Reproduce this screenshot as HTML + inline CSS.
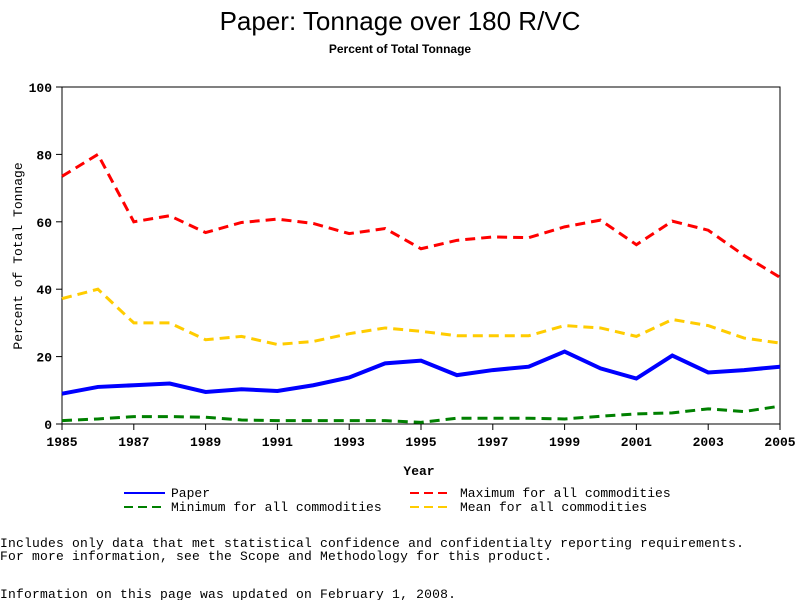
<!DOCTYPE html>
<html><head><meta charset="utf-8"><style>
body{margin:0;width:800px;height:600px;background:#fff;overflow:hidden;font-family:"Liberation Sans",sans-serif}
svg{display:block}
.mono{font-family:"Liberation Mono",monospace}
</style></head><body>
<svg id="chart" width="800" height="600">
<text x="400" y="30" text-anchor="middle" font-size="26">Paper: Tonnage over 180 R/VC</text>
<text x="400" y="53" text-anchor="middle" font-size="12" font-weight="bold">Percent of Total Tonnage</text>
<rect x="62" y="87" width="718" height="337" fill="none" stroke="#000"/>
<g id="axes"></g>
<g id="series"></g>
<text x="419" y="475" text-anchor="middle" font-size="13" font-weight="bold" class="mono">Year</text>
<text transform="translate(22,256) rotate(-90)" text-anchor="middle" font-size="13" class="mono">Percent of Total Tonnage</text>
<g class="mono" font-size="13">
<g><line x1="124" y1="493" x2="165" y2="493" stroke="#0000ff" stroke-width="2"/><text x="171" y="497">Paper</text></g>
<g><line x1="410" y1="493" x2="452" y2="493" stroke="#ff0000" stroke-width="2" stroke-dasharray="9,5"/><text x="460" y="497">Maximum for all commodities</text></g>
<g><line x1="124" y1="507" x2="165" y2="507" stroke="#008000" stroke-width="2" stroke-dasharray="9,5"/><text x="171" y="511">Minimum for all commodities</text></g>
<g><line x1="410" y1="507" x2="452" y2="507" stroke="#ffcc00" stroke-width="2" stroke-dasharray="9,5"/><text x="460" y="511">Mean for all commodities</text></g>
</g>
<g class="mono" font-size="13" letter-spacing="0.2">
<text x="0" y="547">Includes only data that met statistical confidence and confidentialty reporting requirements.</text>
<text x="0" y="560">For more information, see the Scope and Methodology for this product.</text>
<text x="0" y="598">Information on this page was updated on February 1, 2008.</text>
</g>
</svg>
<script>
const years=[1985,1986,1987,1988,1989,1990,1991,1992,1993,1994,1995,1996,1997,1998,1999,2000,2001,2002,2003,2004,2005];
const paper=[9,11,11.5,12,9.5,10.3,9.8,11.5,13.8,18,18.8,14.5,16,17,21.5,16.5,13.5,20.3,15.3,16,17];
const maxAll=[73.5,80,60,61.8,56.8,59.8,60.8,59.5,56.5,58,52,54.5,55.5,55.3,58.5,60.5,53.2,60.2,57.5,50,43.5];
const meanAll=[37.2,40,30,30,25,26,23.6,24.5,26.8,28.5,27.5,26.2,26.2,26.2,29.2,28.5,26,31,29.2,25.5,24];
const minAll=[1,1.5,2.2,2.2,2,1.2,1,1,1,1,0.5,1.7,1.7,1.7,1.5,2.3,3,3.3,4.5,3.7,5.3];
const yTicks=[0,20,40,60,80,100];
const xTicks=[1985,1987,1989,1991,1993,1995,1997,1999,2001,2003,2005];
const NS="http://www.w3.org/2000/svg";
const X=v=>62+(v-1985)/20*718, Y=v=>424-v/100*337;
const axes=document.getElementById('axes'), ser=document.getElementById('series');
function mk(tag,at,p){const e=document.createElementNS(NS,tag);for(const k in at)e.setAttribute(k,at[k]);p.appendChild(e);return e;}
yTicks.forEach(t=>{
 const l=mk('line',{x1:56,x2:62,y1:Y(t),y2:Y(t),stroke:'#000'},axes);
 
 
 const tx=mk('text',{x:52,y:Y(t)+5,'text-anchor':'end','font-size':13,'font-weight':'bold','class':'mono'},axes);tx.textContent=t;
 
 
});
xTicks.forEach(t=>{
 const l=mk('line',{x1:X(t),x2:X(t),y1:424,y2:430,stroke:'#000'},axes);
 
 
 const tx=mk('text',{x:X(t),y:446,'text-anchor':'middle','font-size':13,'font-weight':'bold','class':'mono'},axes);tx.textContent=t;
 
 
});
function line(vals,color,dash,w,name){
 const p=mk('polyline',{points:vals.map((v,i)=>X(years[i])+','+Y(v)).join(' '),fill:'none',stroke:color,'stroke-width':w,'stroke-dasharray':dash},ser);
 
 
}
line(maxAll,'#ff0000','10,6',3,'series-maximum');
line(meanAll,'#ffcc00','10,6',3,'series-mean');
line(minAll,'#008000','10,6',3,'series-minimum');
line(paper,'#0000ff','none',4,'series-paper');
</script>
</body></html>
